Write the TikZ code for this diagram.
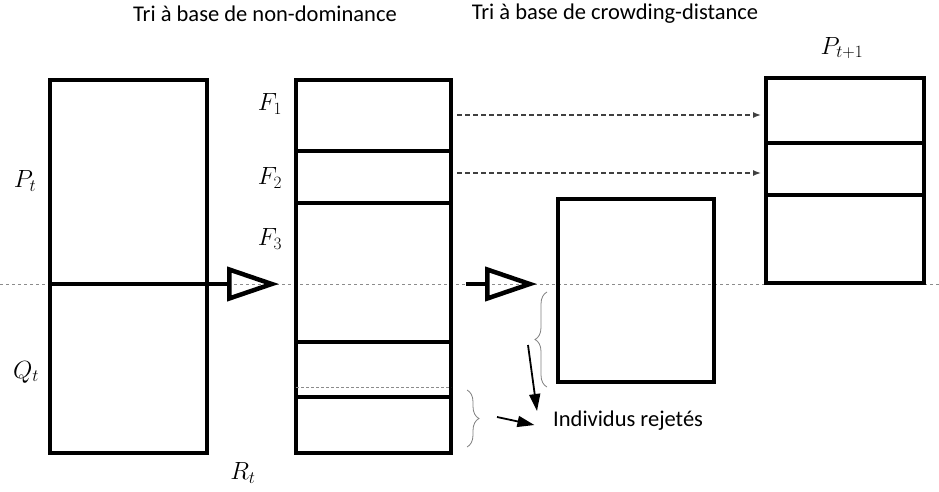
\documentclass[tikz,border=0pt]{standalone}
\usepackage{fontspec}
\setmainfont{Carlito}
\usetikzlibrary{arrows.meta,decorations.pathreplacing,calc}

\begin{document}
\begin{tikzpicture}[x=1pt,y=-1pt,
  box/.style={draw, line width=4pt, inner sep=0pt, outer sep=0pt},
  sep/.style={line width=4pt},
  guide/.style={black!45, dash pattern=on 3pt off 3pt, line width=1pt},
  thinsplit/.style={black!45, dash pattern=on 3pt off 2pt, line width=0.9pt},
  push/.style={line width=4.5pt, -{Triangle[open,length=52pt,width=34pt,line width=4.5pt]}},
  carry/.style={black!75, dash pattern=on 5pt off 3pt, line width=1.4pt,
                -{Latex[length=8pt,width=6pt]}},
  reject/.style={line width=1.8pt, -{Triangle[length=17pt,width=11pt]}},
  curly/.style={decorate, decoration={brace, amplitude=12pt}, black!50, line width=0.8pt},
  title/.style={font=\fontsize{22.5}{26}\selectfont},
  sym/.style={font=\fontsize{26}{30}\selectfont, inner sep=0pt},
  plain/.style={font=\fontsize{22.5}{26}\selectfont, inner sep=0pt}
]
\useasboundingbox (0,0) rectangle (939,492);

% common midline of the two populations
\draw[guide] (0,284) -- (939,284);

% population boxes
\node[box, minimum width=157pt, minimum height=373pt] (R) at (128.5,266.5) {};
\node[box, minimum width=155pt, minimum height=373pt] (M) at (373.5,266.5) {};
\node[box, minimum width=156pt, minimum height=183pt] (C) at (636,290.5) {};
\node[box, minimum width=158pt, minimum height=205pt] (N) at (845,180.5) {};

% R_t split into P_t and Q_t
\draw[sep] (R.west |- 0,284) -- (R.east |- 0,284);

% fronts of the sorted population
\draw[sep] (M.west |- 0,151) -- (M.east |- 0,151);
\draw[sep] (M.west |- 0,203) -- (M.east |- 0,203);
\draw[sep] (M.west |- 0,342) -- (M.east |- 0,342);
\draw[sep] (M.west |- 0,397) -- (M.east |- 0,397);
\draw[thinsplit] (M.west |- 0,387) -- (M.east |- 0,387);

% fronts kept in the next population
\draw[sep] (N.west |- 0,143) -- (N.east |- 0,143);
\draw[sep] (N.west |- 0,195) -- (N.east |- 0,195);

% sorting steps
\draw[push, shorten >=17pt] (R.east |- 0,284) -- (M.west |- 0,284);
\draw[push, shorten <=15pt, shorten >=21pt] (M.east |- 0,284) -- (C.west |- 0,284);

% fronts copied over
\draw[carry, shorten <=6pt, shorten >=5pt] (M.east |- 0,115) -- (N.west |- 0,115);
\draw[carry, shorten <=6pt, shorten >=5pt] (M.east |- 0,173) -- (N.west |- 0,173);

% rejected individuals
\draw[curly] (547,387) -- (547,292);
\draw[curly] (467,390) -- (467,447);
\node[plain, anchor=west] (rej) at (553,421) {Individus rejetés};
\coordinate (b1) at (528,345);
\coordinate (h1) at (537,411);
\coordinate (b2) at (497,417);
\draw[reject] (b1) -- (h1);
\draw[reject, shorten >=19pt] (b2) -- (rej.west |- 0,429);

% titles
\node[title] (t1) at (265,14) {Tri à base de non-dominance};
\node[title] (t2) at (615,14) {Tri à base de crowding-distance};

% labels
\node[sym] (lp) at (25,181) {$P_t$};
\node[sym] (lq) at (26,372) {$Q_t$};
\node[sym] (lr) at (243,473) {$R_t$};
\node[sym] (f1) at (270,104) {$F_1$};
\node[sym] (f2) at (270,178) {$F_2$};
\node[sym] (f3) at (270,239) {$F_3$};
\node[sym] (lpn) at (842,48) {$P_{t+1}$};
\end{tikzpicture}
\end{document}
